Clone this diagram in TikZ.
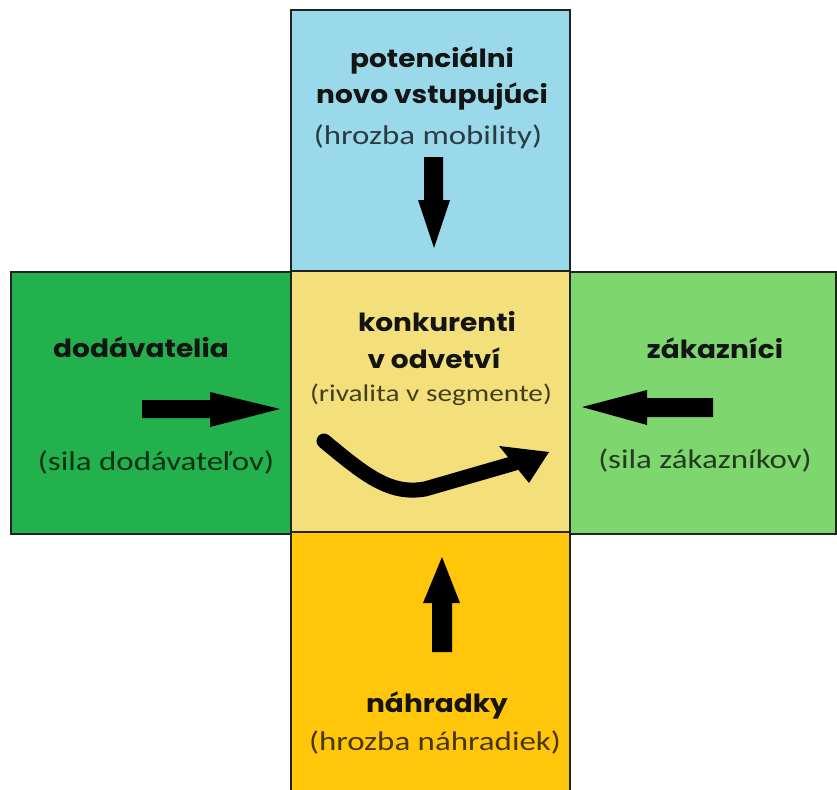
\documentclass[tikz,border=0pt]{standalone}
\usepackage{fontspec}
\setmainfont{Carlito}[FakeStretch=1.22]
\newfontfamily\headfont{Poppins}[FakeStretch=1.12]
\definecolor{entrantblue}{RGB}{154,217,234}
\definecolor{rivalyellow}{RGB}{243,224,122}
\definecolor{supplygreen}{RGB}{34,177,76}
\definecolor{buyergreen}{RGB}{126,214,111}
\definecolor{substgold}{RGB}{255,198,10}
\definecolor{edge}{RGB}{34,34,34}
\begin{document}
\begin{tikzpicture}[x=1pt,y=-1pt,
  field/.style={draw=edge,line width=1.6pt},
  headline/.style={anchor=base,inner sep=0pt,font=\headfont\bfseries\fontsize{25}{28}\selectfont,text=black!92},
  subline/.style={anchor=base,inner sep=0pt,font=\fontsize{27}{30}\selectfont,text=black,text opacity=0.72},
  blockarrow/.style={fill=black},
  turn/.style={draw=black,line width=15pt,line cap=round}]
\useasboundingbox (0,0) rectangle (837,789);
% five fields of the cross
\fill[white] (0,0) rectangle (837,789);
\draw[field,fill=entrantblue] (291,10) rectangle (570,271);
\draw[field,fill=supplygreen] (11,272) rectangle (291,534);
\draw[field,fill=buyergreen] (570,272) rectangle (836,534);
\draw[field,fill=substgold] (291,532) rectangle (570,800);
\draw[field,fill=rivalyellow] (291,271) rectangle (570,532);
% labels
\node[headline] (entT1) at (432,68) {potenciálni};
\node[headline] (entT2) at (432,104) {novo vstupujúci};
\node[subline] (entT3) at (428,144) {(hrozba mobility)};
\node[headline] (supT1) at (141,357) {dodávatelia};
\node[subline] (supT2) at (156,470) {(sila dodávateľov)};
\node[headline] (buyT1) at (715,358) {zákazníci};
\node[subline] (buyT2) at (705,468) {(sila zákazníkov)};
\node[headline] (rivT1) at (437,331) {konkurenti};
\node[headline] (rivT2) at (434,368) {v odvetví};
\node[subline,font=\fontsize{24}{27}\selectfont] (rivT3) at (431,401) {(rivalita v segmente)};
\node[headline] (subT1) at (437,712) {náhradky};
\node[subline] (subT2) at (435,750) {(hrozba náhradiek)};
% block arrows pointing into the centre
\fill[blockarrow] (424,157) -- (443,157) -- (443,200) -- (450,200) -- (434,248)
  -- (418,200) -- (424,200) -- cycle;
\fill[blockarrow] (142,400) -- (210,400) -- (210,392) -- (280,409) -- (210,427)
  -- (210,418) -- (142,418) -- cycle;
\fill[blockarrow] (713,398) -- (647,398) -- (647,390) -- (582,407) -- (647,425)
  -- (647,417) -- (713,417) -- cycle;
\fill[blockarrow] (432,652) -- (432,603) -- (423,603) -- (442,557) -- (460,603)
  -- (452,603) -- (452,652) -- cycle;
% rivalry swoosh
\coordinate (rivA) at (324,441);
\coordinate (rivM) at (425,489);
\coordinate (rivB) at (515,463);
\draw[turn] (rivA) .. controls (366,476) and (390,495) .. (rivM) -- (rivB);
\fill[blockarrow] (499,446) -- (549,452) -- (529,483) -- cycle;
\end{tikzpicture}
\end{document}
